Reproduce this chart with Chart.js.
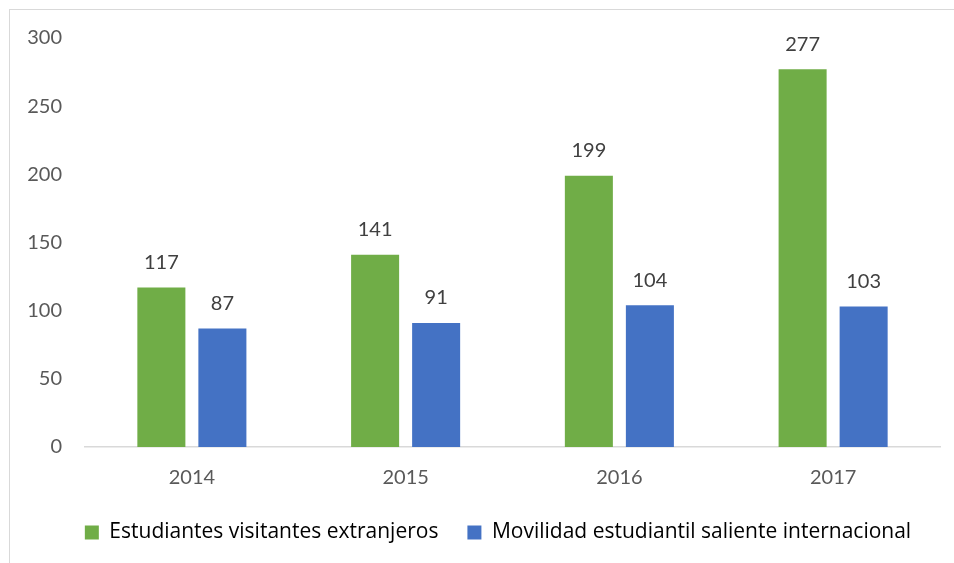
<!DOCTYPE html>
<html>
<head>
<meta charset="utf-8">
<script src="https://cdn.jsdelivr.net/npm/chart.js@4/dist/chart.umd.min.js"></script>
<style>
    body { margin: 0; background: #fff; }
    #wrap { position: relative; width: 954px; height: 563px; overflow: hidden; }
    #frame { position: absolute; left: 9px; top: 9px; width: 1000px; height: 1000px;
             border-left: 1px solid #d9d9d9; border-top: 1px solid #d9d9d9; pointer-events: none; }
    canvas { position: absolute; left: 0; top: 0; }
</style>
</head>
<body>
<div id="wrap">
    <canvas id="chart" width="954" height="563"></canvas>
    <div id="frame"></div>
</div>
<script>
// Chart data
const years = ['2014', '2015', '2016', '2017'];
const visitantes = [117, 141, 199, 277];
const salientes = [87, 91, 104, 103];
const yTicks = [0, 50, 100, 150, 200, 250, 300];

const FONT = 'Lato, "Open Sans", sans-serif';
const LEGEND_FONT = '"Open Sans", Lato, sans-serif';

// Draw the value above each bar
const valueLabels = {
    id: 'valueLabels',
    afterDatasetsDraw(chart) {
        const ctx = chart.ctx;
        ctx.save();
        ctx.font = '20px ' + FONT;
        ctx.fillStyle = '#404040';
        ctx.textAlign = 'center';
        ctx.textBaseline = 'middle';
        chart.data.datasets.forEach(function(ds, i) {
            chart.getDatasetMeta(i).data.forEach(function(bar, j) {
                ctx.fillText(ds.data[j], bar.x, bar.y - 25);
            });
        });
        ctx.restore();
    }
};

// Nudge the legend a bit to the right, like the original
const legendShift = {
    id: 'legendShift',
    afterLayout(chart) {
        if (chart.legend) {
            chart.legend.left += 28;
            chart.legend.right += 28;
        }
    }
};

new Chart(document.getElementById('chart'), {
    type: 'bar',
    data: {
        labels: years,
        datasets: [
            {
                label: 'Estudiantes visitantes extranjeros',
                data: visitantes,
                backgroundColor: '#70ad47',
                categoryPercentage: 0.571,
                barPercentage: 0.787
            },
            {
                label: 'Movilidad estudiantil saliente internacional',
                data: salientes,
                backgroundColor: '#4472c4',
                categoryPercentage: 0.571,
                barPercentage: 0.787
            }
        ]
    },
    options: {
        responsive: false,
        animation: false,
        layout: { padding: { top: 38, right: 14, left: 0, bottom: 10 } },
        plugins: {
            legend: {
                position: 'bottom',
                labels: {
                    font: { family: LEGEND_FONT, size: 21 },
                    color: '#000',
                    boxWidth: 14,
                    boxHeight: 14,
                    padding: 29
                }
            },
            tooltip: { enabled: false }
        },
        scales: {
            x: {
                grid: { display: false, drawTicks: false },
                border: { color: '#d9d9d9', width: 1.5 },
                ticks: {
                    font: { family: FONT, size: 20 },
                    color: '#595959',
                    padding: 19
                },
                afterFit: function(scale) { scale.height = 46; }
            },
            y: {
                min: 0,
                max: 300,
                afterBuildTicks: function(scale) {
                    scale.ticks = yTicks.map(v => ({ value: v }));
                },
                grid: { display: false, drawTicks: false },
                border: { display: false },
                ticks: {
                    font: { family: FONT, size: 20 },
                    color: '#595959',
                    padding: 23
                },
                afterFit: function(scale) { scale.width = 85; }
            }
        }
    },
    plugins: [valueLabels, legendShift]
});
</script>
</body>
</html>
